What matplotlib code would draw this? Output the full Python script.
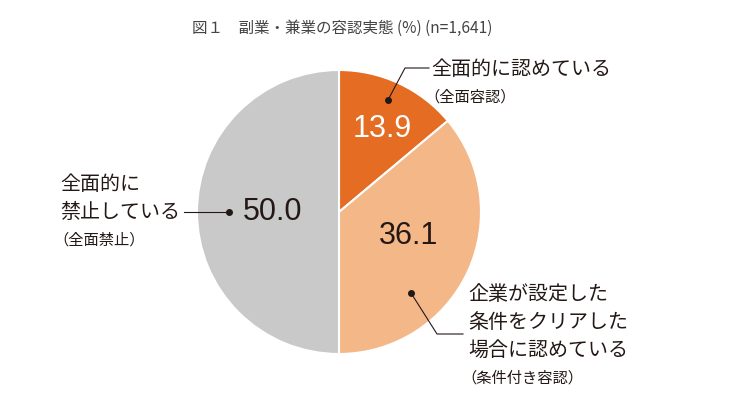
import matplotlib
matplotlib.use("Agg")
import matplotlib.pyplot as plt

plt.rcParams['font.family'] = ['Noto Sans CJK JP', 'DejaVu Sans']

title = "図１　副業・兼業の容認実態 (%) (n=1,641)"
values = [13.9, 36.1, 50.0]
value_labels = ["13.9", "36.1", "50.0"]
colors = ["#E46C23", "#F4B788", "#C9C9C9"]
value_colors = ["white", "#231815", "#231815"]
main_labels = ["全面的に認めている", "企業が設定した\n条件をクリアした\n場合に認めている", "全面的に\n禁止している"]
sub_labels = ["（全面容認）", "（条件付き容認）", "（全面禁止）"]

W, H = 743, 417
fig = plt.figure(figsize=(W / 100, H / 100), dpi=100)
ax = fig.add_axes([0, 0, 1, 1])
ax.set_xlim(0, W)
ax.set_ylim(0, H)
ax.axis('off')

def Y(py):
    return H - py

cx, cy, r = 339, 212, 142
ax.pie(values, colors=colors, startangle=90, counterclock=False,
       center=(cx, Y(cy)), radius=r, frame=True,
       wedgeprops=dict(edgecolor='white', linewidth=1.5))
ax.set_xlim(0, W)
ax.set_ylim(0, H)
ax.axis('off')

txt = "#231815"
ax.text(342, Y(28), title, ha='center', va='center', fontsize=11.2, color="#444444")

# value labels
vpos = [(382, 129), (409, 236), (273, 212)]
for (x, y), lab, c in zip(vpos, value_labels, value_colors):
    ax.text(x, Y(y), lab, ha='center', va='center', fontsize=22,
            family=['Liberation Sans', 'DejaVu Sans'], color=c)

fs = 14.4
sfs = 11
# label 1
ax.plot([388, 405, 429], [Y(100), Y(68), Y(68)], color=txt, lw=0.8)
ax.plot([388], [Y(100)], 'o', color=txt, ms=4)
ax.text(431, Y(69), main_labels[0], ha='left', va='center', fontsize=fs, color=txt)
ax.text(424, Y(97), sub_labels[0], ha='left', va='center', fontsize=sfs, color=txt)

# label 2
ax.plot([411, 437, 463], [Y(293), Y(334), Y(334)], color=txt, lw=0.8)
ax.plot([411], [Y(293)], 'o', color=txt, ms=4)
for i, line in enumerate(main_labels[1].split("\n")):
    ax.text(468, Y(294 + 28 * i), line, ha='left', va='center', fontsize=fs, color=txt)
ax.text(461, Y(378), sub_labels[1], ha='left', va='center', fontsize=sfs, color=txt)

# label 3
ax.plot([184, 229], [Y(212), Y(212)], color=txt, lw=0.8)
ax.plot([229], [Y(212)], 'o', color=txt, ms=4)
for i, line in enumerate(main_labels[2].split("\n")):
    ax.text(60, Y(184 + 28 * i), line, ha='left', va='center', fontsize=fs, color=txt)
ax.text(53, Y(240), sub_labels[2], ha='left', va='center', fontsize=sfs, color=txt)

fig.savefig("out.png", dpi=100, facecolor='white')
